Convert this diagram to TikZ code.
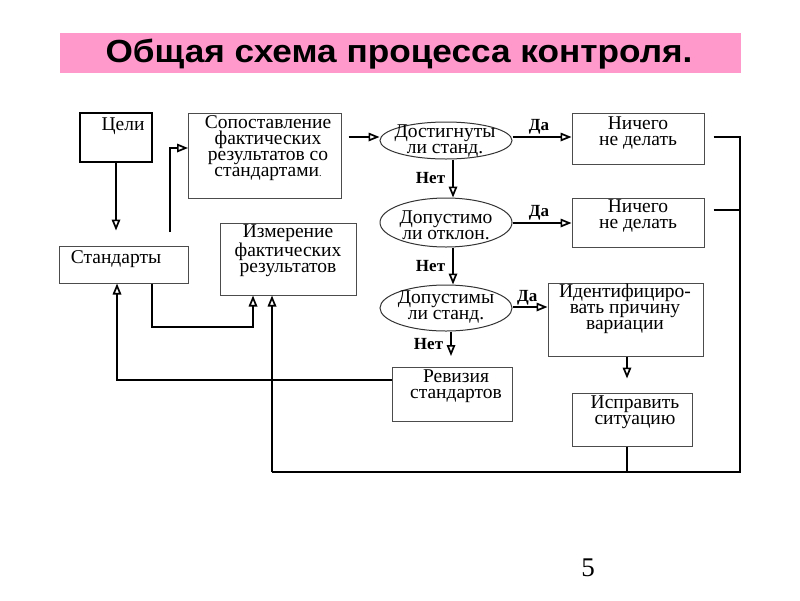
\documentclass[tikz,border=0pt]{standalone}
\usepackage{graphicx}
\usepackage{fontspec}
\setmainfont{Liberation Serif}
\newfontfamily\titlefont{Liberation Sans}
\usetikzlibrary{arrows.meta,shapes.geometric,calc}
\definecolor{titlepink}{HTML}{FF99CC}
\begin{document}
\begin{tikzpicture}[x=1pt,y=-1pt,
  box/.style={draw=black!70,line width=1pt,rectangle,inner sep=0pt},
  goalbox/.style={draw=black,line width=2pt,rectangle,inner sep=0pt},
  ell/.style={draw=black!80,line width=1pt,ellipse,inner sep=0pt},
  txt/.style={font=\fontsize{19.5}{16}\selectfont,align=center,inner sep=0pt},
  lbl/.style={font=\bfseries\fontsize{17}{17}\selectfont,inner sep=0pt},
  conn/.style={line width=1.8pt},
  arr/.style={conn,-{Triangle[open,length=11pt,width=8.5pt,line width=1.7pt]}},
]
\useasboundingbox (0,0) rectangle (800,600);
\fill[white] (0,0) rectangle (800,600);

% title
\fill[titlepink] (60,33) rectangle (741,73);
\node[font=\titlefont\bfseries\fontsize{32}{32}\selectfont,inner sep=0pt] (title) at (399,54) {\scalebox{1.1}[1]{Общая схема процесса контроля.}};

% boxes
\node[goalbox,minimum width=72pt,minimum height=49pt] (goals) at (116,137.5) {};
\node[txt] (goalsT) at (123,126) {Цели};
\node[box,minimum width=153pt,minimum height=85pt] (compare) at (264.5,155.5) {};
\node[txt] (compareT) at (268,148.5) {Сопоставление\\фактических\\результатов со\\стандартами{\fontsize{10}{10}\selectfont.}};
\node[box,minimum width=129pt,minimum height=37pt] (standards) at (123.5,264.5) {};
\node[txt] (standardsT) at (116,259) {Стандарты};
\node[box,minimum width=136pt,minimum height=72pt] (measure) at (288,259) {};
\node[txt] (measureT) at (288,250.5) {Измерение\\фактических\\результатов};

\node[ell,minimum width=132pt,minimum height=37pt] (e1) at (446,140.5) {};
\node[txt] (e1T) at (445,141) {Достигнуты\\ли станд.};
\node[ell,minimum width=132pt,minimum height=49pt] (e2) at (446,222.5) {};
\node[txt] (e2T) at (446,225) {Допустимо\\ли отклон.};
\node[ell,minimum width=132pt,minimum height=46pt] (e3) at (446,308) {};
\node[txt] (e3T) at (446,307) {Допустимы\\ли станд.};

\node[box,minimum width=132pt,minimum height=51pt] (nothing1) at (638,138.5) {};
\node[txt] (nothing1T) at (638,133) {Ничего\\не делать};
\node[box,minimum width=132pt,minimum height=49pt] (nothing2) at (638,222.5) {};
\node[txt] (nothing2T) at (638,216) {Ничего\\не делать};
\node[box,minimum width=155pt,minimum height=73pt] (identify) at (625.5,319.5) {};
\node[txt] (identifyT) at (625,308.5) {Идентифициро-\\вать причину\\вариации};
\node[box,minimum width=120pt,minimum height=54pt] (revise) at (452,394) {};
\node[txt] (reviseT) at (456,386) {Ревизия\\стандартов};
\node[box,minimum width=120pt,minimum height=53pt] (fix) at (632,419.5) {};
\node[txt] (fixT) at (635,412.5) {Исправить\\ситуацию};

% page number
\node[font=\fontsize{27}{27}\selectfont,inner sep=0pt] (pagenum) at (588,568) {5};

% helper coordinates
\coordinate (yr1) at (0,137);
\coordinate (yr2) at (0,223);
\coordinate (yr3) at (0,307);
\coordinate (xn) at (453,0);
\coordinate (xf) at (627,0);
\coordinate (nend) at (451,356);
\coordinate (busTR) at (740,137);
\coordinate (busM) at (740,210);
\coordinate (busBR) at (740,472);
\coordinate (busBL) at (272,472);
\coordinate (cmpin) at (188,148);
\coordinate (s2c) at (170,232);
\coordinate (sm) at (253,327);
\coordinate (xs) at (152,0);
\coordinate (rv) at (117,380);

% connectors
\draw[arr,shorten >=15pt] (goals.south) -- (goals.south |- standards.north);
\draw[arr] (s2c) |- (cmpin);
\draw[arr,shorten <=7pt] (compare.east |- yr1) -- (e1.west |- yr1);
\draw[arr] (e1.east |- yr1) -- (nothing1.west |- yr1) node[lbl,pos=0.45,above=2pt] {Да};
\draw[arr] (e1.south -| xn) -- (e2.north -| xn) node[lbl,midway,left=7pt] {Нет};
\draw[arr] (e2.east |- yr2) -- (nothing2.west |- yr2) node[lbl,pos=0.45,above=2pt] {Да};
\draw[arr] (e2.south -| xn) -- (e3.north -| xn) node[lbl,midway,left=7pt] {Нет};
\draw[arr] (e3.east |- yr3) -- (identify.west |- yr3) node[lbl,pos=0.42,above=1pt] {Да};
\draw[arr] (e3.south -| nend) -- (nend) node[lbl,midway,left=7pt] {Нет};
\draw[arr,shorten >=14pt] (identify.south -| xf) -- (fix.north -| xf);
\draw[conn,shorten <=9pt] (nothing1.east |- busTR) -- (busTR) -- (busBR) -- (busBL);
\draw[conn,shorten <=9pt] (nothing2.east |- busM) -- (busM);
\draw[arr] (busBL) -- (measure.south -| busBL);
\draw[conn] (fix.south -| xf) -- (xf |- busBR);
\draw[arr] (revise.west |- rv) -| (standards.south -| rv);
\draw[arr] (standards.south -| xs) |- (sm) -- (measure.south -| sm);
\end{tikzpicture}
\end{document}
